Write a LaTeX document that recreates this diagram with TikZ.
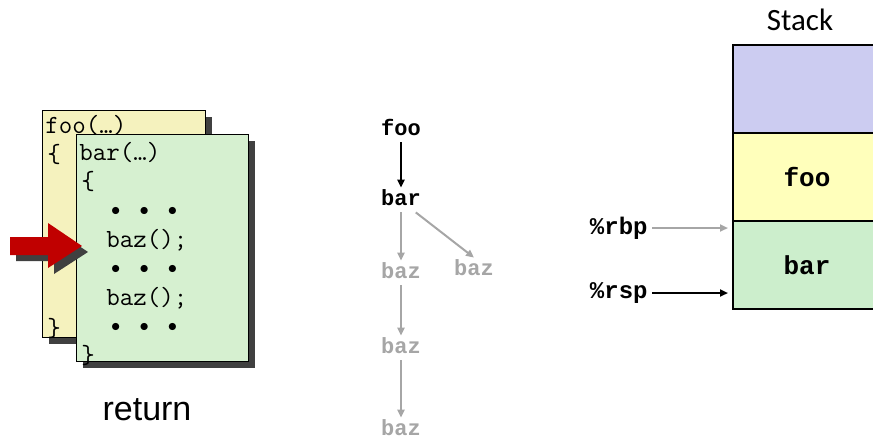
\documentclass[tikz,border=0pt]{standalone}
\usepackage{fontspec}
\setmainfont{Liberation Sans}
\newfontfamily\boldmono{Liberation Mono}
\newfontfamily\labelfont{Carlito}
\usetikzlibrary{arrows.meta,shadows}
\definecolor{CardY}{RGB}{245,242,190}
\definecolor{CardG}{RGB}{214,240,208}
\definecolor{StackB}{RGB}{204,204,241}
\definecolor{StackY}{RGB}{255,255,187}
\definecolor{StackG}{RGB}{204,238,204}
\definecolor{CGray}{RGB}{166,166,166}
\definecolor{CRed}{RGB}{192,0,0}
\newcommand{\onedot}{\makebox[14.25pt][c]{$\scriptstyle\bullet$}}
\newcommand{\threedots}{\onedot\onedot\onedot}

\begin{document}
\begin{tikzpicture}[x=0.5pt,y=-0.5pt,
  shadowed/.style={drop shadow={shadow xshift=3pt,shadow yshift=-3pt,fill=black!75,opacity=1}},
  card/.style={draw,line width=0.6pt,anchor=north west,inner sep=0pt,shadowed},
  code/.style={anchor=base west,inner sep=0pt,font=\ttfamily\fontsize{13.1}{15}\selectfont},
  call/.style={inner sep=2.5pt,text height=6pt,text depth=1pt,font=\boldmono\bfseries\fontsize{11}{13}\selectfont},
  gone/.style={call,text=CGray},
  cell/.style={draw,line width=1pt,anchor=north west,minimum width=74pt,minimum height=44pt,inner sep=0pt,font=\boldmono\bfseries\fontsize{13}{15}\selectfont},
  reg/.style={anchor=east,inner sep=0pt,font=\boldmono\bfseries\fontsize{12}{14}\selectfont},
  tip/.style={-{Triangle[length=4pt,width=3.5pt]}},
  grayarrow/.style={tip,line width=1pt,draw=CGray},
  blackarrow/.style={tip,line width=1.1pt,draw=black},
]
\useasboundingbox (0,0) rectangle (873,440);

  % Code cards: foo behind, bar in front.
  \node[card,fill=CardY,minimum width=81.5pt,minimum height=113.5pt] (cardfoo) at (42,110) {};
  \node[code] (foohead) at (45,133) {foo(…)};
  \node[code] (fooopen) at (47,162) {\{};
  \node[code] (fooclose) at (47,336) {\}};

  \node[card,fill=CardG,minimum width=86pt,minimum height=113.5pt] (cardbar) at (76,134) {};
  \node[code] (barhead) at (79,160) {bar(…)};
  \node[code] (baropen) at (81,189) {\{};
  \node[code] (dotsA) at (101,215) {\threedots};
  \node[code] (bazA) at (106,247) {baz();};
  \node[code] (dotsB) at (101,273) {\threedots};
  \node[code] (bazB) at (106,305) {baz();};
  \node[code] (dotsC) at (101,331) {\threedots};
  \node[code] (barclose) at (81,363) {\}};

  % Current position.
  \path[fill=CRed,shadowed] (10,237) -- (48,237) -- (48,223) -- (82,246)
    -- (48,268) -- (48,255) -- (10,255) -- cycle;

  \node[font=\fontsize{17}{20}\selectfont] (ret) at (147,410) {return};

  % Call tree.
  \node[call] (tfoo) at (401,130) {foo};
  \node[call] (tbar) at (401,200) {bar};
  \node[gone] (tbazA) at (401,273) {baz};
  \node[gone] (tbazR) at (474,270) {baz};
  \node[gone] (tbazB) at (401,348) {baz};
  \node[gone] (tbazC) at (401,430) {baz};
  \draw[blackarrow] (tfoo) -- (tbar);
  \draw[grayarrow] (tbar) -- (tbazA);
  \draw[grayarrow] (tbar.-40) -- (tbazR.north);
  \draw[grayarrow] (tbazA) -- (tbazB);
  \draw[grayarrow] (tbazB) -- (tbazC);

  % Stack frames.
  \node[font=\labelfont\fontsize{15.5}{18}\selectfont] (stacklabel) at (800,20) {Stack};
  \node[cell,fill=StackB] (celltop) at (732,44) {};
  \node[cell,fill=StackY] (cellfoo) at (732,132) {foo};
  \node[cell,fill=StackG] (cellbar) at (732,220) {bar};

  \node[reg] (rbp) at (648,228) {\%rbp};
  \node[reg] (rsp) at (648,293) {\%rsp};
  \coordinate (rbpend) at (728,228);
  \coordinate (rspend) at (728,293);
  \draw[grayarrow,shorten <=2pt] (rbp.east) -- (rbpend);
  \draw[blackarrow,shorten <=2pt] (rsp.east) -- (rspend);

\end{tikzpicture}
\end{document}
